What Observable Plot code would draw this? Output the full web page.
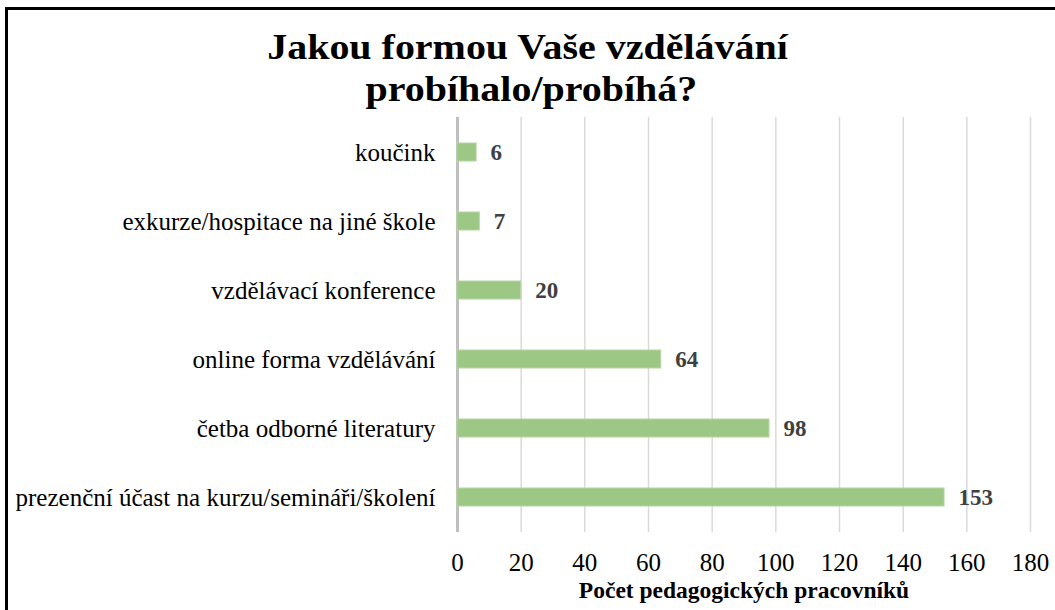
<!DOCTYPE html>
<html>
<head>
<meta charset="utf-8">
<script src="https://cdn.jsdelivr.net/npm/d3@7"></script>
<script src="https://cdn.jsdelivr.net/npm/@observablehq/plot@0.6"></script>
<style>
  body { margin: 0; background: #fff; }
  #wrap { position: relative; width: 1055px; height: 610px; overflow: hidden; font-family: "Liberation Serif", "Times New Roman", serif; }
  #frame { position: absolute; left: 5px; top: 7px; width: 1060px; height: 620px; border-top: 3px solid #000; border-left: 3px solid #000; box-sizing: border-box; }
  #title { position: absolute; left: 0; top: 26px; width: 1055px; text-align: center; font-weight: bold; font-size: 36px; line-height: 42px; color: #000; }
  #title span { display: inline-block; transform: scale(1.11, 1.0); }
  #chart { position: absolute; left: 0; top: 0; }
  #chart svg text { font-family: "Liberation Serif", "Times New Roman", serif !important; }
</style>
</head>
<body>
<div id="wrap">
  <div id="chart"></div>
  <div id="frame"></div>
  <div id="title"><span>Jakou formou Vaše vzdělávání</span><br><span style="margin-left:8px">probíhalo/probíhá?</span></div>
</div>
<script>
const categories = [
  "koučink",
  "exkurze/hospitace na jiné škole",
  "vzdělávací konference",
  "online forma vzdělávání",
  "četba odborné literatury",
  "prezenční účast na kurzu/semináři/školení"
];
const values = [6, 7, 20, 64, 98, 153];
const xTicks = [0, 20, 40, 60, 80, 100, 120, 140, 160, 180];
const xLabel = "Počet pedagogických pracovníků";

const data = categories.map((c, i) => ({category: c, value: values[i]}));
const serif = "'Liberation Serif', 'Times New Roman', serif";

const plot = Plot.plot({
  width: 1055,
  height: 610,
  marginTop: 117,
  marginBottom: 78,
  marginLeft: 457,
  marginRight: 25,
  style: {fontFamily: serif, background: "transparent", color: "#000"},
  x: {domain: [0, 180]},
  y: {domain: categories, paddingInner: 0.74, paddingOuter: 0.344},
  marks: [
    Plot.gridX(xTicks, {stroke: "#d9d9d9", strokeOpacity: 1, strokeWidth: 1.5}),
    Plot.ruleX([0], {stroke: "#bfbfbf", strokeWidth: 3}),
    Plot.barX(data, {x: "value", y: "category", fill: "#9cc784", stroke: "#b5d6a3", strokeWidth: 1}),
    Plot.text(data, {x: "value", y: "category", text: d => String(d.value), dx: 14, textAnchor: "start", fontWeight: "bold", fontSize: 23, fill: "#404040", fontFamily: serif}),
    Plot.axisY({tickSize: 0, tickPadding: 22, fontSize: 25, label: null, fill: "#000", fontFamily: serif}),
    Plot.axisX({ticks: xTicks, tickSize: 0, tickPadding: 21, fontSize: 25, label: null, fill: "#000", fontFamily: serif}),
    Plot.text([xLabel], {frameAnchor: "bottom", dy: 65, fontWeight: "bold", fontSize: 23.5, fill: "#000", fontFamily: serif})
  ]
});
document.getElementById("chart").appendChild(plot);
</script>
</body>
</html>
